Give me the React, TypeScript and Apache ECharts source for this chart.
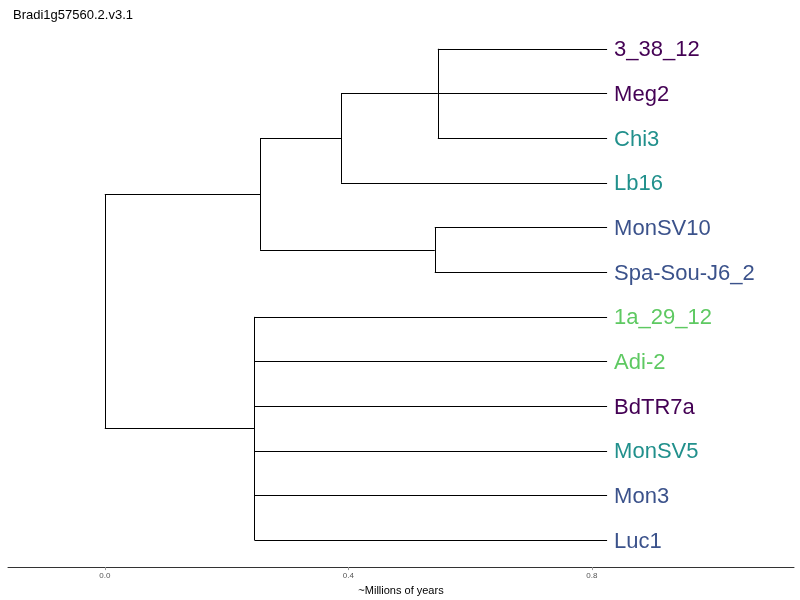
import { useEffect, useRef } from 'react';
import * as echarts from 'echarts';

const leafNames = ['3_38_12', 'Meg2', 'Chi3', 'Lb16', 'MonSV10', 'Spa-Sou-J6_2', '1a_29_12', 'Adi-2', 'BdTR7a', 'MonSV5', 'Mon3', 'Luc1'];
const leafColors = ['#440154', '#440154', '#21908c', '#21908c', '#3b528b', '#3b528b', '#5ec962', '#5ec962', '#440154', '#21908c', '#3b528b', '#3b528b'];
const leafHeight = 0.825;
// internal nodes: [id, height, children] (children: leaf index as number, node id as string)
const nodes: [string, number, (number | string)[]][] = [
  ['n4', 0.547, [0, 1, 2]],
  ['n3', 0.388, ['n4', 3]],
  ['n5', 0.542, [4, 5]],
  ['n2', 0.255, ['n3', 'n5']],
  ['n6', 0.246, [6, 7, 8, 9, 10, 11]],
  ['root', 0.0, ['n2', 'n6']],
];
const xTicks = [0, 0.4, 0.8];

export default function App() {
  const chartRef = useRef<HTMLDivElement>(null);

  useEffect(() => {
    if (!chartRef.current) return;
    const chart = echarts.init(chartRef.current, null, { renderer: 'svg' });

    const ypos: Record<string, number> = {};
    const segs: number[][][] = [];
    const childY = (c: number | string) => (typeof c === 'number' ? c : ypos[c]);
    const childX = (c: number | string) =>
      typeof c === 'number' ? leafHeight : nodes.find((n) => n[0] === c)![1];
    nodes.forEach(([id, h, ch]) => {
      const ys = ch.map(childY);
      const lo = Math.min(...ys);
      const hi = Math.max(...ys);
      ypos[id] = (lo + hi) / 2;
      segs.push([[h, lo], [h, hi]]);
      ch.forEach((c) => segs.push([[h, childY(c)], [childX(c), childY(c)]]));
    });

    chart.setOption({
      animation: false,
      title: {
        text: 'Bradi1g57560.2.v3.1',
        left: 8,
        top: 3,
        textStyle: { fontSize: 13, fontWeight: 'normal', color: '#000', fontFamily: 'Liberation Sans' },
      },
      grid: { left: 8, right: 6, top: 22, bottom: 31 },
      xAxis: {
        type: 'value',
        min: -0.159,
        max: 1.132,
        name: '~Millions of years',
        nameLocation: 'middle',
        nameGap: 16,
        nameTextStyle: { fontSize: 11, color: '#000', fontFamily: 'Liberation Sans' },
        axisLine: { show: true, onZero: false, lineStyle: { color: '#333', width: 1 } },
        axisTick: { show: true, customValues: xTicks, length: 3, lineStyle: { color: '#999' } },
        axisLabel: {
          customValues: xTicks,
          fontSize: 8,
          color: '#555',
          margin: 4,
          fontFamily: 'Liberation Sans',
          formatter: (v: number) => v.toFixed(1),
        },
        splitLine: { show: false },
      },
      yAxis: {
        type: 'value',
        inverse: true,
        min: -0.6,
        max: 11.6,
        show: false,
      },
      series: [
        {
          type: 'lines',
          coordinateSystem: 'cartesian2d',
          polyline: false,
          silent: true,
          lineStyle: { color: '#000', width: 1, opacity: 1 },
          data: segs.map((s) => ({ coords: s })),
        },
        {
          type: 'scatter',
          symbolSize: 0,
          silent: true,
          itemStyle: { opacity: 1 },
          data: leafNames.map((name, i) => ({
            value: [leafHeight, i],
            itemStyle: { opacity: 1 },
            label: {
              show: true,
              position: 'right',
              distance: 7,
              formatter: name,
              color: leafColors[i],
              opacity: 1,
              fontSize: 22,
              fontFamily: 'Liberation Sans',
            },
          })),
        },
      ],
    });

    return () => chart.dispose();
  }, []);

  return <div ref={chartRef} style={{ position: 'fixed', left: 0, top: 0, width: 800, height: 600 }} />;
}
